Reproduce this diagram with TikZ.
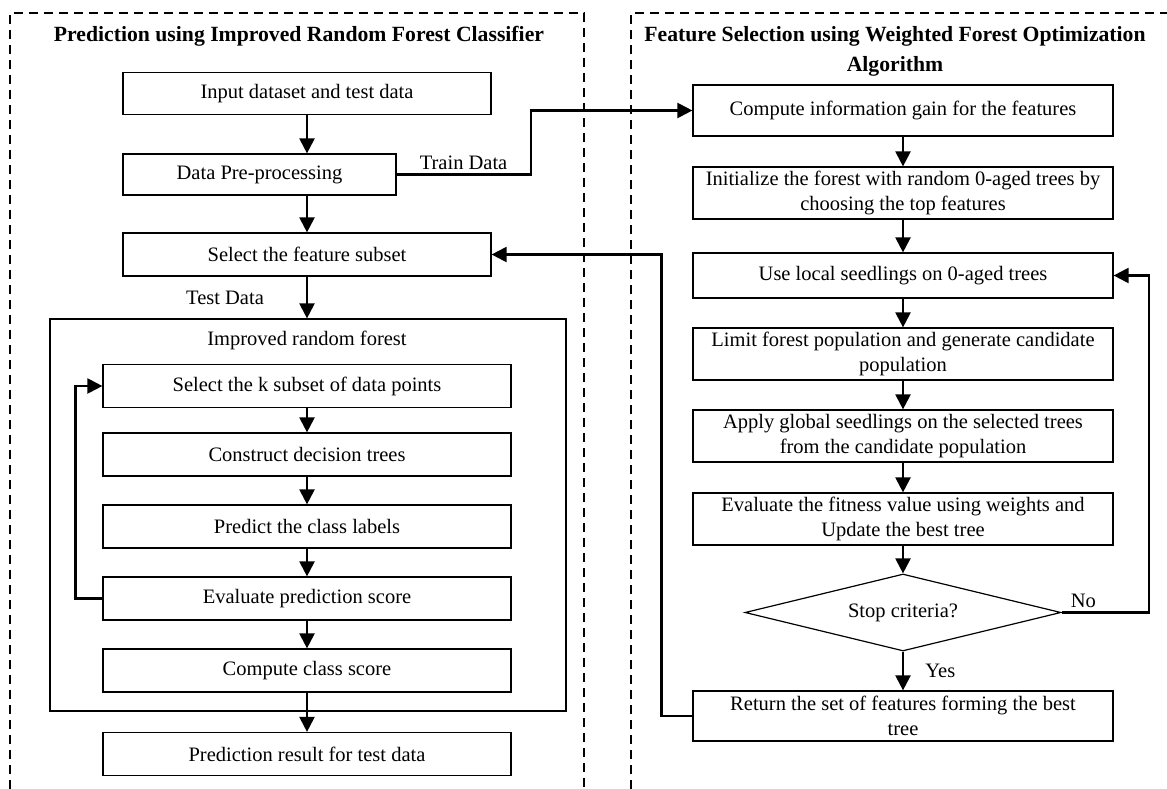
\documentclass[tikz,border=0pt]{standalone}
\usepackage{fontspec}
\setmainfont{Liberation Serif}
\usetikzlibrary{arrows.meta,shapes.geometric}

\begin{document}
\begin{tikzpicture}[x=1pt, y=-1pt,
			font=\fontsize{20.5}{25}\selectfont,
			box/.style={draw, line width=1.2pt, align=center, inner sep=0pt},
			lbox/.style={box, minimum width=368pt, minimum height=42pt},
			ibox/.style={box, minimum width=408pt, minimum height=43pt},
			rbox/.style={box, minimum width=420pt, minimum height=52pt},
			arr/.style={-{Triangle[width=15pt,length=15pt]}, line width=2.2pt},
			frame/.style={line width=2.8pt, dash pattern=on 9pt off 6pt},
			headline/.style={font=\fontsize{21.7}{30}\selectfont\bfseries, align=center}]
			\useasboundingbox (0,0) rectangle (1167,789);
			% Rahmen zeichnen
			\draw[frame] (10,789) -- (10,13) -- (584,13) -- (584,789);
			\draw[frame] (631,789) -- (631,13) -- (1167,13);
			\node[headline] (ltitle) at (299,36) {Prediction using Improved Random Forest Classifier};
			\node[headline] (rtitle) at (895,51) {Feature Selection using Weighted Forest Optimization\\Algorithm};
			% linke Seite
			\node[lbox] (input) at (307,93.5) {Input dataset and test data};
			\node[box, minimum width=273pt, minimum height=41pt] (prep) at (259.5,174.5) {Data Pre-processing};
			\node[lbox, minimum height=43pt] (subset) at (307,254.5) {Select the feature subset};
			\node (testlbl) at (225,298) {Test Data};
			\node[box, minimum width=516pt, minimum height=392pt] (irf) at (308,515) {};
			\node (irftitle) at (307,340) {Improved random forest};
			\node[ibox] (selk) at (307,386) {Select the k subset of data points};
			\node[ibox] (cons) at (307,454.5) {Construct decision trees};
			\node[ibox] (pred) at (307,526.5) {Predict the class labels};
			\node[ibox] (evalp) at (307,598.5) {Evaluate prediction score};
			\node[ibox] (cscore) at (307,670.5) {Compute class score};
			\node[ibox] (result) at (307,754) {Prediction result for test data};
			% rechte Seite
			\node[rbox, minimum height=51pt] (gain) at (903,110.5) {Compute information gain for the features};
			\node[rbox] (init) at (903,193) {Initialize the forest with random 0-aged trees by\\choosing the top features};
			\node[rbox, minimum height=45pt] (local) at (903,275.5) {Use local seedlings on 0-aged trees};
			\node[rbox] (limit) at (903,354) {Limit forest population and generate candidate\\population};
			\node[rbox] (apply) at (903,436) {Apply global seedlings on the selected trees\\from the candidate population};
			\node[rbox] (fit) at (903,519) {Evaluate the fitness value using weights and\\Update the best tree};
			\node[draw, line width=1.2pt, diamond, aspect=4, inner sep=0pt, minimum width=316pt, minimum height=77pt] (stop) at (903,612.5) {Stop criteria?};
			\node[rbox, minimum height=50pt] (ret) at (903,716) {Return the set of features forming the best\\tree};
			% Pfeile links
			\draw[arr] (input.south) -- (input.south |- prep.north);
			\draw[arr] (prep.south -| subset.north) -- (subset.north);
			\draw[arr] (subset.south) -- (subset.south |- irf.north);
			\draw[arr] (selk) -- (cons);
			\draw[arr] (cons) -- (pred);
			\draw[arr] (pred) -- (evalp);
			\draw[arr] (evalp) -- (cscore);
			\draw[arr] (cscore) -- (result);
			\draw[arr] (evalp.west) -- ++(-27,0) |- (selk.west);
			% Pfeile rechts
			\draw[arr] (prep.east) -- node[above] {Train Data} ++(134,0) |- (gain.west);
			\draw[arr] (gain) -- (init);
			\draw[arr] (init) -- (local);
			\draw[arr] (local) -- (limit);
			\draw[arr] (limit) -- (apply);
			\draw[arr] (apply) -- (fit);
			\draw[arr] (fit.south) -- (stop.north);
			\draw[arr] (stop.south) -- node[right=18pt] {Yes} (ret.north);
			\draw[arr] (stop.east) -- node[pos=0.25, above] {No} ++(87,0) |- (local.east);
			\draw[arr] (ret.west) -- ++(-31,0) |- (subset.east);
		\end{tikzpicture}
\end{document}
